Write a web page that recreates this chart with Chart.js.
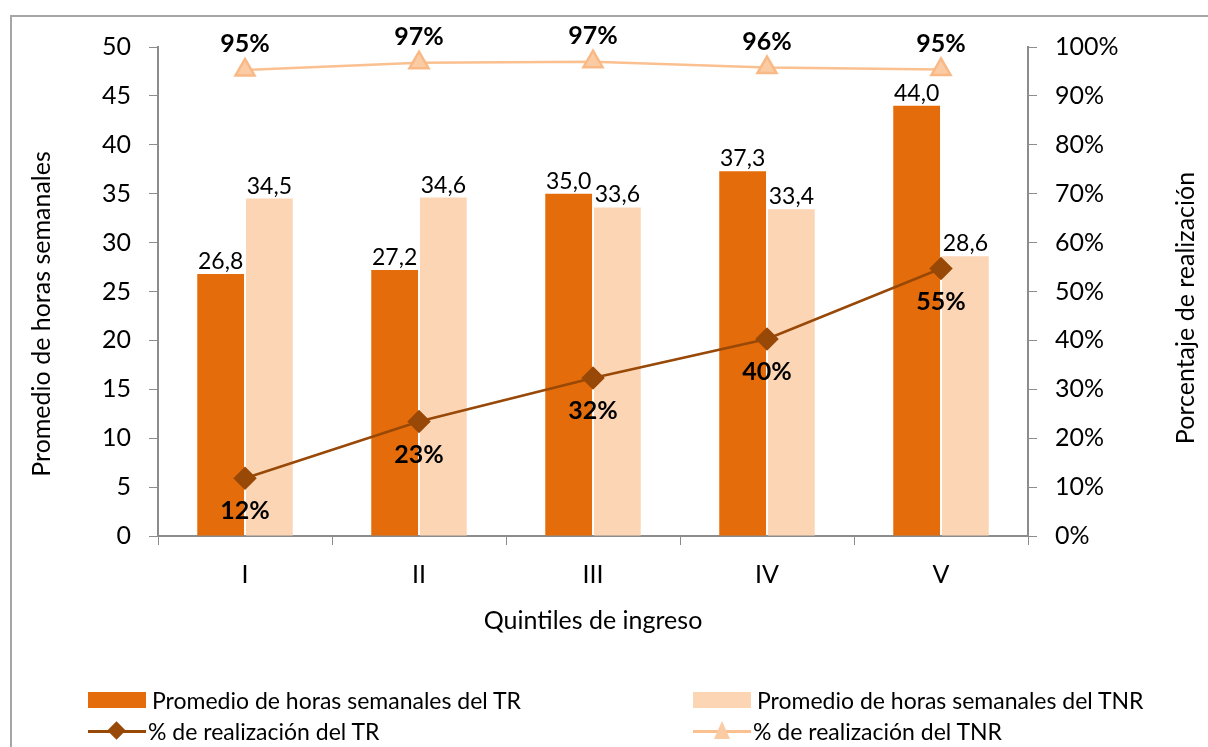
<!DOCTYPE html>
<html>
<head>
<meta charset="utf-8">
<script src="https://cdn.jsdelivr.net/npm/chart.js@4/dist/chart.umd.min.js"></script>
<style>
  html, body { margin: 0; padding: 0; background: #fff; overflow: hidden; }
  #wrap { position: relative; width: 1208px; height: 747px; }
  #frame { position: absolute; left: 10px; top: 15px; width: 1300px; height: 800px; border: 2px solid #a6a6a6; }
  #chartBox { position: absolute; left: 0; top: 0; width: 1208px; height: 747px; }
  .leg { position: absolute; font-family: Lato, "Open Sans", sans-serif; font-size: 23px; color: #000; white-space: nowrap; }
  .leg .txt { position: absolute; top: -14px; }
  .sw { position: absolute; }
</style>
</head>
<body>
<div id="wrap">
  <div id="frame"></div>
  <div id="chartBox"><canvas id="QuintilesChart" width="1208" height="747"></canvas></div>
  <div id="legend"></div>
</div>
<script>
var quintiles = ["I", "II", "III", "IV", "V"];
var horasTR = [26.8, 27.2, 35.0, 37.3, 44.0];
var horasTNR = [34.5, 34.6, 33.6, 33.4, 28.6];
var realizTR = [11.8, 23.4, 32.3, 40.3, 54.7];
var realizTNR = [95.3, 96.8, 97.0, 95.8, 95.4];

var colorTR = "#E46C0A";
var colorTNR = "#FCD5B5";
var lineTR = "#984807";
var lineTNR = "#FAC090";
var axisGray = "#8c8c8c";
var fontName = "Lato, 'Open Sans', sans-serif";

// labels next to bars and points, plus the two vertical axis titles
var valueLabels = {
  id: "valueLabels",
  afterDatasetsDraw: function(chart) {
    var ctx = chart.ctx;
    ctx.save();
    ctx.fillStyle = "#000";
    ctx.textAlign = "center";
    chart.data.datasets.forEach(function(ds, i) {
      var meta = chart.getDatasetMeta(i);
      meta.data.forEach(function(el, j) {
        var v = ds.data[j];
        if (ds.type === "bar") {
          ctx.font = "23px " + fontName;
          ctx.textBaseline = "bottom";
          ctx.fillText(v.toFixed(1).replace(".", ","), el.x, el.y - 1);
        } else if (ds.label === "% de realización del TR") {
          ctx.font = "bold 25px " + fontName;
          ctx.textBaseline = "middle";
          ctx.fillText(Math.round(v) + "%", el.x, el.y + 33);
        } else {
          ctx.font = "bold 25px " + fontName;
          ctx.textBaseline = "middle";
          ctx.fillText(Math.round(v) + "%", el.x, el.y - 26);
        }
      });
    });

    ctx.font = "25px " + fontName;
    ctx.textBaseline = "middle";
    ctx.save();
    ctx.translate(42, 314);
    ctx.rotate(-Math.PI / 2);
    ctx.fillText("Promedio de horas semanales", 0, 0);
    ctx.restore();
    ctx.save();
    ctx.translate(1186, 308);
    ctx.rotate(-Math.PI / 2);
    ctx.fillText("Porcentaje de realización", 0, 0);
    ctx.restore();
    ctx.restore();
  }
};

new Chart("QuintilesChart", {
  data: {
    labels: quintiles,
    datasets: [
      {
        type: "line",
        label: "% de realización del TR",
        data: realizTR,
        yAxisID: "yPct",
        borderColor: lineTR,
        backgroundColor: lineTR,
        borderWidth: 2.5,
        pointStyle: "rectRot",
        pointRadius: 10,
        pointBorderColor: lineTR,
        pointBackgroundColor: lineTR,
        order: 0
      },
      {
        type: "line",
        label: "% de realización del TNR",
        data: realizTNR,
        yAxisID: "yPct",
        borderColor: lineTNR,
        backgroundColor: lineTNR,
        borderWidth: 2.5,
        pointStyle: "triangle",
        pointRadius: 11,
        pointBorderColor: "#F9B986",
        pointBackgroundColor: "#FBCBA3",
        order: 0
      },
      {
        type: "bar",
        label: "Promedio de horas semanales del TR",
        data: horasTR,
        yAxisID: "yHoras",
        backgroundColor: colorTR,
        categoryPercentage: 0.56,
        barPercentage: 0.96,
        order: 1
      },
      {
        type: "bar",
        label: "Promedio de horas semanales del TNR",
        data: horasTNR,
        yAxisID: "yHoras",
        backgroundColor: colorTNR,
        categoryPercentage: 0.56,
        barPercentage: 0.96,
        order: 1
      }
    ]
  },
  options: {
    responsive: false,
    animation: false,
    layout: { padding: { left: 10, top: 47, right: 0, bottom: 107 } },
    plugins: {
      legend: { display: false },
      tooltip: { enabled: false }
    },
    scales: {
      x: {
        grid: { display: true, drawOnChartArea: false, tickLength: 9, color: axisGray, offset: true },
        border: { color: axisGray, width: 2 },
        ticks: { color: "#000", font: { family: fontName, size: 25 }, padding: 15 },
        title: { display: true, text: "Quintiles de ingreso", color: "#000", font: { family: fontName, size: 25 }, padding: { top: 8 } },
        afterFit: function(s) { s.height = 104; }
      },
      yHoras: {
        position: "left",
        min: 0, max: 50,
        ticks: { stepSize: 5, color: "#000", font: { family: fontName, size: 25 }, padding: 18 },
        grid: { display: true, drawOnChartArea: false, tickLength: 9, color: axisGray },
        border: { color: axisGray, width: 2 },
        afterFit: function(s) { s.width = 148; }
      },
      yPct: {
        position: "right",
        min: 0, max: 100,
        ticks: { stepSize: 10, color: "#000", font: { family: fontName, size: 25 }, padding: 18,
          callback: function(v) { return v + "%"; } },
        grid: { display: true, drawOnChartArea: false, tickLength: 9, color: axisGray },
        border: { color: axisGray, width: 2 },
        afterFit: function(s) { s.width = 180; }
      }
    }
  },
  plugins: [valueLabels]
});

// legend in two columns like the original
var legendItems = [
  { text: "Promedio de horas semanales del TR", kind: "box", color: colorTR, x: 88, y: 700 },
  { text: "Promedio de horas semanales del TNR", kind: "box", color: colorTNR, x: 693, y: 700 },
  { text: "% de realización del TR", kind: "diamond", color: lineTR, x: 88, y: 731 },
  { text: "% de realización del TNR", kind: "triangle", color: lineTNR, x: 693, y: 731 }
];
var legendBox = document.getElementById("legend");
legendItems.forEach(function(it) {
  var d = document.createElement("div");
  d.className = "leg";
  d.style.left = it.x + "px";
  d.style.top = it.y + "px";
  var html = "";
  if (it.kind === "box") {
    html += '<div class="sw" style="left:0;top:-8px;width:58px;height:16px;background:' + it.color + '"></div>';
  } else {
    html += '<div class="sw" style="left:0;top:-1px;width:58px;height:3px;background:' + it.color + '"></div>';
    if (it.kind === "diamond") {
      html += '<div class="sw" style="left:22px;top:-7px;width:13px;height:13px;background:' + it.color + ';transform:rotate(45deg)"></div>';
    } else {
      html += '<div class="sw" style="left:21px;top:-10px;width:0;height:0;border-left:8px solid transparent;border-right:8px solid transparent;border-bottom:18px solid #FBCBA3"></div>';
    }
  }
  html += '<span class="txt" style="left:' + (it.kind === "box" ? 64 : 60) + 'px">' + it.text + '</span>';
  d.innerHTML = html;
  legendBox.appendChild(d);
});
</script>
</body>
</html>
